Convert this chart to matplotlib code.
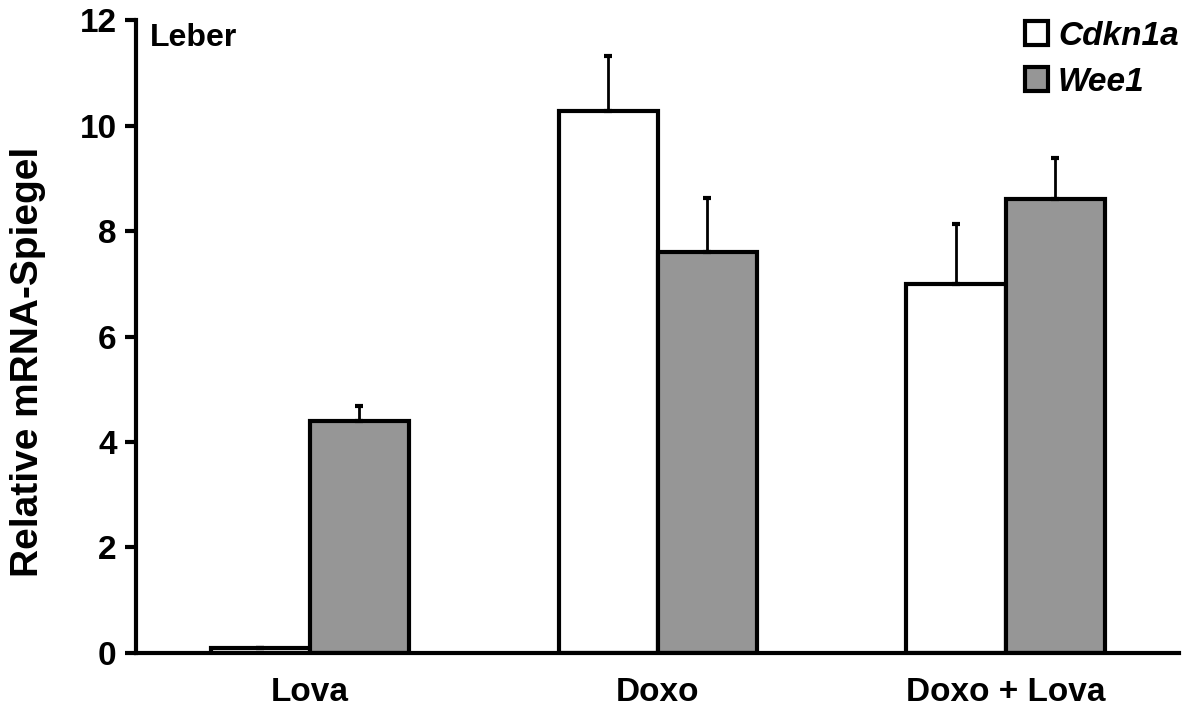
import numpy as np
import matplotlib.pyplot as plt
from matplotlib.patches import Patch

plt.rcParams['font.family'] = ['Liberation Sans', 'DejaVu Sans']
plt.rcParams['font.weight'] = 'bold'

groups = ['Lova', 'Doxo', 'Doxo + Lova']
cdkn1a = [0.10, 10.28, 6.99]
cdkn1a_err = [0.0, 1.03, 1.14]
wee1 = [4.39, 7.61, 8.61]
wee1_err = [0.30, 1.01, 0.77]

fig = plt.figure(figsize=(11.89, 7.17), dpi=100)
ax = fig.add_axes([0.1144, 0.0893, 0.8776, 0.8827])

x = np.arange(len(groups))
w = 0.285
ekw = dict(elinewidth=2, capthick=3, ecolor='black')
ax.bar(x - w/2, cdkn1a, w, color='white', edgecolor='black', linewidth=3,
       yerr=[np.zeros(3), cdkn1a_err], capsize=3, error_kw=ekw, zorder=2)
ax.bar(x + w/2, wee1, w, color='#969696', edgecolor='black', linewidth=3,
       yerr=[np.zeros(3), wee1_err], capsize=3, error_kw=ekw, zorder=2)

ax.set_xlim(-0.5, 2.5)
ax.set_ylim(0, 12)
ax.set_yticks(range(0, 13, 2))
ax.set_xticks(x)
ax.set_xticklabels(groups, fontsize=24, fontweight='bold')
ax.tick_params(axis='x', length=0, pad=17)
ax.tick_params(axis='y', length=8, width=3, labelsize=24, pad=6)
for t in ax.get_yticklabels():
    t.set_fontweight('bold')
ax.spines['top'].set_visible(False)
ax.spines['right'].set_visible(False)
ax.spines['left'].set_linewidth(3)
ax.spines['bottom'].set_linewidth(3)
ax.set_ylabel('Relative mRNA-Spiegel', fontsize=28, fontweight='bold')
ax.yaxis.set_label_coords(-0.086, 0.46)

ax.text(0.013, 0.995, 'Leber', transform=ax.transAxes, fontsize=23,
        fontweight='bold', va='top', ha='left')

handles = [Patch(facecolor='white', edgecolor='black', linewidth=3),
           Patch(facecolor='#969696', edgecolor='black', linewidth=3)]
leg = ax.legend(handles, ['Cdkn1a', 'Wee1'], loc='upper right', frameon=False,
                bbox_to_anchor=(1.012, 1.02), handlelength=0.7, handleheight=0.7,
                handletextpad=0.3, labelspacing=0.45, borderaxespad=0,
                prop=dict(size=24, weight='bold', style='italic'))

fig.savefig('out.png', dpi=100)
